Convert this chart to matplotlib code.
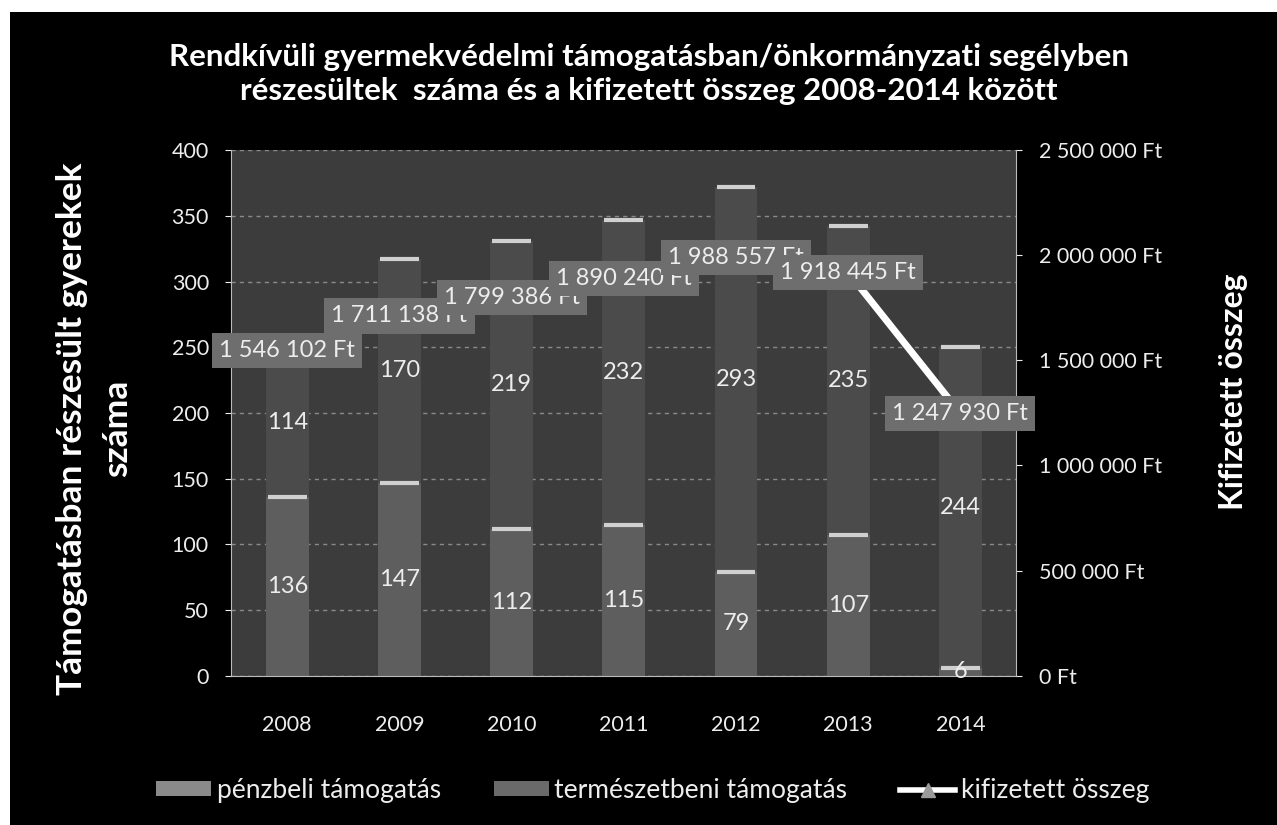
import matplotlib
matplotlib.use("Agg")
import matplotlib.pyplot as plt
import numpy as np
from matplotlib.patches import Rectangle
from matplotlib.ticker import FuncFormatter, MultipleLocator

plt.rcParams['font.family'] = ['Lato', 'DejaVu Sans']

# adatok
evek = ['2008', '2009', '2010', '2011', '2012', '2013', '2014']
penzbeli = [136, 147, 112, 115, 79, 107, 6]
termeszetbeni = [114, 170, 219, 232, 293, 235, 244]
kifizetett = [1546102, 1711138, 1799386, 1890240, 1988557, 1918445, 1247930]

szoveg = '#ededed'
hatter = '#3c3c3c'
szin_penz = '#5e5e5e'
szin_term = '#4b4b4b'


def ft(v, pos=None):
    s = f"{int(round(v)):,}".replace(",", " ")
    return s + " Ft"


fig = plt.figure(figsize=(12.77, 8.25), dpi=100, facecolor='white')
fig.patches.append(Rectangle((10 / 1277, 0), 1, 1 - 12 / 825, transform=fig.transFigure,
                             facecolor='black', edgecolor='none', zorder=-10))

ax = fig.add_axes([0.181, 0.181, 0.615, 0.637])
ax.set_facecolor(hatter)
ax2 = ax.twinx()

x = np.arange(len(evek))
w = 0.38
b1 = ax.bar(x, penzbeli, w, color=szin_penz, zorder=2)
b2 = ax.bar(x, termeszetbeni, w, bottom=penzbeli, color=szin_term, zorder=2)

# világos felső élek
tetok = np.array(penzbeli) + np.array(termeszetbeni)
ax.hlines(penzbeli, x - w / 2.2, x + w / 2.2, color='#d0d0d0', lw=3, zorder=3)
ax.hlines(tetok, x - w / 2.2, x + w / 2.2, color='#d0d0d0', lw=3, zorder=3)

for i in range(len(evek)):
    ax.text(x[i], penzbeli[i] / 2, str(penzbeli[i]), ha='center', va='center',
            color=szoveg, fontsize=17, zorder=4)
    ax.text(x[i], penzbeli[i] + termeszetbeni[i] / 2, str(termeszetbeni[i]),
            ha='center', va='center', color=szoveg, fontsize=17, zorder=4)

ax.set_ylim(0, 400)
ax.yaxis.set_major_locator(MultipleLocator(50))
ax.set_xlim(-0.5, len(evek) - 0.5)
ax.set_xticks(x)
ax.set_xticklabels(evek)
ax.grid(axis='y', color='#8a8a8a', linestyle=(0, (3, 3)), lw=1)
ax.set_axisbelow(True)

ax2.plot(x, kifizetett, color='#8c8c8c', lw=4, marker='^', markersize=10,
         markerfacecolor='#9a9a9a', markeredgecolor='#9a9a9a', zorder=5)
ax2.plot(x[-2:], kifizetett[-2:], color='white', lw=5, zorder=5)
ax2.set_ylim(0, 2500000)
ax2.yaxis.set_major_locator(MultipleLocator(500000))
ax2.yaxis.set_major_formatter(FuncFormatter(ft))
for i in range(len(evek)):
    ax2.text(x[i], kifizetett[i], ft(kifizetett[i]), ha='center', va='center',
             color=szoveg, fontsize=17, zorder=6,
             bbox=dict(boxstyle='square,pad=0.3', facecolor='#6e6e6e', edgecolor='none'))

for a in (ax, ax2):
    for sp in a.spines.values():
        sp.set_visible(False)
    a.tick_params(colors=szoveg, labelsize=15.5, length=4)
ax.spines['left'].set_visible(True)
ax.spines['left'].set_color('#bbbbbb')
ax.spines['bottom'].set_visible(True)
ax.spines['bottom'].set_color('#bbbbbb')
ax2.spines['right'].set_visible(True)
ax2.spines['right'].set_color('#bbbbbb')
ax.tick_params(axis='x', length=0, pad=28)
ax.tick_params(axis='y', pad=12)
ax2.tick_params(axis='y', pad=12)

ax.set_ylabel('Támogatásban részesült gyerekek\nszáma', color='white', fontsize=25.5,
              fontweight='bold', linespacing=1.5)
ax.yaxis.set_label_coords(-0.125, 0.47)
ax2.set_ylabel('Kifizetett összeg', color='white', fontsize=23, fontweight='bold',
               rotation=90)
ax2.yaxis.set_label_coords(1.258, 0.54)

fig.text(0.508, 0.91,
         'Rendkívüli gyermekvédelmi támogatásban/önkormányzati segélyben\n'
         'részesültek  száma és a kifizetett összeg 2008-2014 között',
         ha='center', va='center', color='white', fontsize=22.5, fontweight='bold',
         linespacing=1.25)

h1 = Rectangle((0, 0), 1, 1, facecolor='#8a8a8a')
h2 = Rectangle((0, 0), 1, 1, facecolor='#6a6a6a')
h3 = plt.Line2D([], [], color='white', lw=4, marker='^', markersize=10,
                markerfacecolor='#9a9a9a', markeredgecolor='#9a9a9a')
fig.legend([h1, h2, h3], ['pénzbeli támogatás', 'természetbeni támogatás', 'kifizetett összeg'],
           loc='center', bbox_to_anchor=(0.511, 0.042), ncol=3, frameon=False,
           fontsize=19, labelcolor=szoveg, handlelength=2.1, handleheight=0.45,
           columnspacing=2.0, handletextpad=0.2)

fig.savefig('out.png', dpi=100, facecolor=fig.get_facecolor())
